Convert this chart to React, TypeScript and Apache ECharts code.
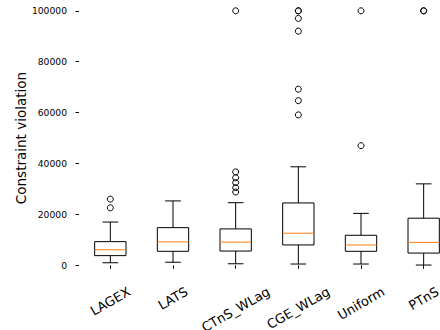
import React, { useEffect, useRef } from "react";
import * as echarts from "echarts";

const categories = ["LAGEX", "LATS", "CTnS_WLag", "CGE_WLag", "Uniform", "PTnS"];
const whiskerLow = [1000, 1200, 600, 500, 500, 100];
const q1 = [3800, 5500, 5600, 8000, 5500, 4800];
const median = [6100, 9200, 9100, 12600, 8000, 9000];
const q3 = [9300, 14800, 14300, 24500, 11800, 18500];
const whiskerHigh = [17000, 25300, 24600, 38700, 20400, 32000];
const outliers: number[][] = [
  [26000, 22600],
  [],
  [100000, 36700, 34400, 32500, 30500, 28800],
  [100000, 100000, 97000, 92000, 69200, 64700, 59100],
  [100000, 47000],
  [100000, 100000],
];
const yMin = 0;
const yMax = 100000;
const yInterval = 20000;
const yName = "Constraint violation";

const FONT = "DejaVu Sans";
const X_FONT_SIZE = 13;
const X_LINE_H = 13;

function measure(text: string, size: number): number {
  const c = document.createElement("canvas");
  const ctx = c.getContext("2d");
  if (!ctx) return text.length * size * 0.6;
  ctx.font = `${size}px "${FONT}"`;
  return ctx.measureText(text).width;
}

export default function App() {
  const ref = useRef<HTMLDivElement>(null);
  useEffect(() => {
    if (!ref.current) return;
    const chart = echarts.init(ref.current, undefined, { renderer: "svg" });

    // matplotlib centres rotated labels (ha="center", top-anchored bbox);
    // shift each label down by a quarter of its length to mimic that.
    const rich: Record<string, any> = {};
    categories.forEach((c, i) => {
      const L = measure(c, X_FONT_SIZE);
      const D = L / 4;
      rich["s" + i] = { fontSize: 1, lineHeight: Math.max(1, 1.732 * D), color: "rgba(0,0,0,0)" };
      rich["l" + i] = {
        fontSize: X_FONT_SIZE,
        fontFamily: FONT,
        color: "#000",
        lineHeight: X_LINE_H,
        padding: [0, D, 0, 0],
      };
    });

    const boxData = categories.map((_, i) => [
      i,
      whiskerLow[i],
      q1[i],
      median[i],
      q3[i],
      whiskerHigh[i],
    ]);
    const outlierData: number[][] = [];
    outliers.forEach((arr, i) => arr.forEach((v) => outlierData.push([i, v])));

    chart.setOption({
      animation: false,
      backgroundColor: "#fff",
      grid: {
        left: 79,
        width: 376,
        top: 10.8,
        height: 254.5,
        containLabel: false,
        outerBoundsMode: "none",
      },
      xAxis: {
        type: "category",
        data: categories,
        boundaryGap: true,
        offset: 12.7,
        axisLine: { show: false },
        axisTick: { show: true, alignWithLabel: true, length: 3.5, lineStyle: { color: "#000", width: 1 } },
        splitLine: { show: false },
        axisLabel: {
          interval: 0,
          rotate: 30,
          align: "center",
          verticalAlign: "middle",
          margin: 12.5,
          hideOverlap: false,
          fontFamily: FONT,
          fontSize: X_FONT_SIZE,
          color: "#000",
          formatter: (v: string, idx: number) => `{s${idx}| }\n{l${idx}|${v}}`,
          rich,
        },
      },
      yAxis: {
        type: "value",
        min: yMin,
        max: yMax,
        interval: yInterval,
        name: yName,
        nameLocation: "middle",
        nameGap: 51.5,
        nameMoveOverlap: false,
        nameTextStyle: { fontFamily: FONT, fontSize: 13.5, color: "#000" },
        axisLine: { show: false },
        axisTick: { show: true, length: 3.5, lineStyle: { color: "#000", width: 1 } },
        splitLine: { show: false },
        axisLabel: {
          fontFamily: FONT,
          fontSize: 9.2,
          color: "#000",
          margin: 12,
          formatter: (v: number) => String(v),
        },
      },
      series: [
        {
          type: "custom",
          data: boxData,
          encode: { x: 0, y: [1, 2, 3, 4, 5] },
          clip: false,
          renderItem: (params: any, api: any) => {
            const i = api.value(0);
            const lo = api.coord([i, api.value(1)]);
            const b1 = api.coord([i, api.value(2)]);
            const md = api.coord([i, api.value(3)]);
            const b3 = api.coord([i, api.value(4)]);
            const hi = api.coord([i, api.value(5)]);
            const band = api.size([1, 0])[0];
            const hw = band * 0.25;
            const cw = band * 0.125;
            const x = lo[0];
            const s = { stroke: "#000", lineWidth: 1, fill: "none" };
            return {
              type: "group",
              children: [
                { type: "rect", shape: { x: x - hw, y: b3[1], width: 2 * hw, height: b1[1] - b3[1] }, style: s },
                { type: "line", shape: { x1: x, y1: b1[1], x2: x, y2: lo[1] }, style: s },
                { type: "line", shape: { x1: x, y1: b3[1], x2: x, y2: hi[1] }, style: s },
                { type: "line", shape: { x1: x - cw, y1: lo[1], x2: x + cw, y2: lo[1] }, style: s },
                { type: "line", shape: { x1: x - cw, y1: hi[1], x2: x + cw, y2: hi[1] }, style: s },
                { type: "line", shape: { x1: x - hw, y1: md[1], x2: x + hw, y2: md[1] }, style: { stroke: "#ff7f0e", lineWidth: 1 } },
              ],
            };
          },
        },
        {
          type: "scatter",
          data: outlierData,
          clip: false,
          symbol: "circle",
          symbolSize: 6,
          itemStyle: { color: "rgba(0,0,0,0)", borderColor: "#000", borderWidth: 1, opacity: 1 },
          emphasis: { disabled: true },
        },
      ],
    });
    return () => chart.dispose();
  }, []);
  return (
    <div
      ref={ref}
      style={{ position: "fixed", left: 0, top: 0, width: 440, height: 330, background: "#fff" }}
    />
  );
}
